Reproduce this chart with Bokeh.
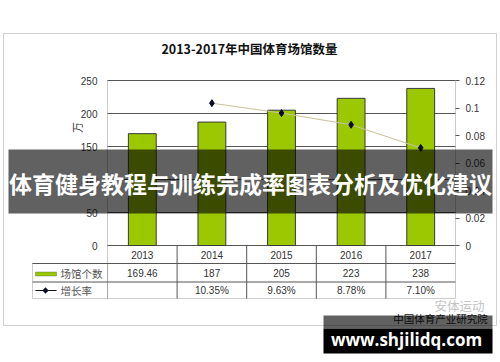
from math import pi
from bokeh.plotting import figure
from bokeh.models import (Range1d, LinearAxis, FixedTicker, Label, BoxAnnotation,
                          PolyAnnotation, Arrow)
from bokeh.core.properties import value
from bokeh.embed import file_html
from bokeh.resources import INLINE

# ---------------- data ----------------
years = ["2013", "2014", "2015", "2016", "2017"]
venues = [169.46, 187, 205, 223, 238]
venue_labels = ["169.46", "187", "205", "223", "238"]
growth_years = ["2014", "2015", "2016", "2017"]
growth = [0.1035, 0.0963, 0.0878, 0.0710]
growth_labels = ["", "10.35%", "9.63%", "8.78%", "7.10%"]
left_ticks = [0, 50, 100, 150, 200, 250]
right_ticks = [0, 0.02, 0.04, 0.06, 0.08, 0.1, 0.12]
right_tick_labels = ["0", "0.02", "0.04", "0.06", "0.08", "0.1", "0.12"]
title_text = "2013-2017年中国体育场馆数量"
unit_text = "万"
series_names = ["场馆个数", "增长率"]
banner_text = "体育健身教程与训练完成率图表分析及优化建议"
source_text = "中国体育产业研究院"
logo_text = "安体运动"
url_text = "www.shjilidq.com"

# ---------------- layout helpers (canvas pixel -> data units) ----------------
W, H = 500, 362
FL, FR, FT, FB = 107, 455, 80, 298   # plot area + table edges, pixels
ZERO_Y = 245
PX_PER_UNIT = (ZERO_Y - FT) / 250.0
RATE_PER_PX = 0.12 / (ZERO_Y - FT)
CAT_W = (FR - FL) / len(years)


def dx(px):
    return (px - FL) / CAT_W


def dy(py):
    return (ZERO_Y - py) / PX_PER_UNIT


def ry(py):
    return (ZERO_Y - py) * RATE_PER_PX


p = figure(width=W, height=H, x_range=Range1d(dx(0), dx(W)),
           y_range=Range1d(dy(H), dy(0)), output_backend="svg",
           toolbar_location=None, x_axis_location=None, y_axis_location="left",
           min_border_left=0, min_border_right=0, min_border_top=0, min_border_bottom=0,
           title=None)
p.background_fill_color = "white"
p.border_fill_color = "white"
p.outline_line_color = None
p.grid.visible = False

p.extra_y_ranges = {"rate": Range1d(ry(H), ry(0))}

left = p.left[0]
left.ticker = FixedTicker(ticks=left_ticks)
left.fixed_location = 0
left.major_tick_line_color = None
left.major_tick_out = 0
left.major_tick_in = 0
left.major_label_standoff = 10

right = LinearAxis(y_range_name="rate", ticker=FixedTicker(ticks=right_ticks),
                   major_label_overrides={t: s for t, s in zip(right_ticks, right_tick_labels)})
right.fixed_location = len(years)
right.major_tick_line_color = "#555555"
right.major_tick_out = 4
right.major_tick_in = 0
right.major_label_standoff = 6
p.add_layout(right, "right")

for ax in (left, right):
    ax.axis_line_color = None
    ax.minor_tick_line_color = None
    ax.major_label_text_font = "Liberation Sans"
    ax.major_label_text_font_size = "10px"
    ax.major_label_text_color = "#333333"

# horizontal grid lines over the plot area
p.segment(x0=0, y0=left_ticks, x1=len(years), y1=left_ticks, line_color="#555555")

centers = [i + 0.5 for i in range(len(years))]
p.vbar(x=centers, top=venues, bottom=0, width=0.4, fill_color="#9BC800",
       line_color="#3a3a3a", line_width=1)

gx = [years.index(y) + 0.5 for y in growth_years]
p.line(gx, growth, y_range_name="rate", line_color="#C9C29A", line_width=1)
p.scatter(gx, growth, y_range_name="rate", marker="diamond", size=7,
          fill_color="#0a0a2a", line_color="#0a0a2a")

# ---------------- data table under the chart ----------------
row1, row2, row3 = dy(263), dy(281.5), dy(FB)
p.segment(x0=[1, 2, 3, 4], y0=0, x1=[1, 2, 3, 4], y1=row3, line_color="#555555")
p.segment(x0=dx(32), y0=[row1, row2], x1=len(years), y1=[row1, row2], line_color="#555555")
tkw = dict(text_font=value("Liberation Sans"), text_font_size="10px",
           text_color="#333333", text_align="center", text_baseline="middle")
p.text(x=centers, y=dy(254), text=years, **tkw)
p.text(x=centers, y=dy(272.5), text=venue_labels, **tkw)
p.text(x=centers, y=dy(290), text=growth_labels, **tkw)

# plot-area / table frame and legend column
p.add_layout(BoxAnnotation(left=0, right=len(years), top=250, bottom=row3,
                           fill_color=None, line_color="#555555", line_width=1))
p.add_layout(BoxAnnotation(left=dx(32), right=0, top=row1, bottom=row3,
                           fill_color=None, line_color="#555555", line_width=1))
p.add_layout(BoxAnnotation(left=dx(35), right=dx(56), top=dy(271.5), bottom=dy(275.5),
                           fill_color="#9BC800", fill_alpha=1, line_color="#333333"))
p.add_layout(Arrow(x_start=dx(35), y_start=dy(290), x_end=dx(56), y_end=dy(290),
                   end=None, line_color="#111111", line_width=1))
p.add_layout(PolyAnnotation(xs=[dx(42), dx(45), dx(48), dx(45)],
                            ys=[dy(290), dy(287), dy(290), dy(293)],
                            fill_color="#0a0a2a", fill_alpha=1, line_color="#0a0a2a"))
lkw = dict(text_font="Noto Sans CJK SC", text_font_size="10.5px", text_color="#555555",
           text_align="left", text_baseline="middle")
p.add_layout(Label(x=dx(60), y=dy(273), text=series_names[0], **lkw))
p.add_layout(Label(x=dx(60), y=dy(290), text=series_names[1], **lkw))

# title, unit, outer border
p.add_layout(Label(x=dx(249), y=dy(48), text=title_text, text_font="Noto Sans CJK SC",
                   text_font_size="12.5px", text_font_style="bold", text_color="#111111",
                   text_align="center", text_baseline="middle"))
p.add_layout(Label(x=dx(76), y=dy(127), text=unit_text, angle=pi / 2,
                   text_font="Noto Sans CJK SC", text_font_size="11px", text_color="#333333",
                   text_align="center", text_baseline="middle"))
p.add_layout(BoxAnnotation(left=dx(3), right=dx(496), top=dy(33), bottom=dy(325),
                           fill_color=None, line_color="#666666", line_width=1))

# watermark texts under the bands
p.add_layout(Label(x=dx(459), y=dy(305), text=logo_text, text_font="Noto Sans CJK SC",
                   text_font_size="12.5px", text_color="#c4c4c4",
                   text_align="center", text_baseline="middle"))
p.add_layout(Label(x=dx(440), y=dy(318), text=source_text, text_font="Noto Sans CJK SC",
                   text_font_size="10.5px", text_color="#222222",
                   text_align="center", text_baseline="middle"))

# overlay banner
p.add_layout(BoxAnnotation(left=dx(8), right=dx(492), top=dy(149), bottom=dy(213),
                           fill_color="black", fill_alpha=0.62, line_color=None,
                           level="annotation"))
p.add_layout(Label(x=dx(250), y=dy(182), text=banner_text, text_font="Noto Sans CJK SC",
                   text_font_size="23px", text_font_style="bold", text_color="white",
                   text_align="center", text_baseline="middle", level="overlay"))

# url band
p.add_layout(BoxAnnotation(left=dx(323), right=dx(492), top=dy(315), bottom=dy(328),
                           fill_color="black", fill_alpha=0.62, line_color=None))
p.add_layout(BoxAnnotation(left=dx(323), right=dx(492), top=dy(328), bottom=dy(353),
                           fill_color="black", fill_alpha=1, line_color=None))
p.add_layout(Label(x=dx(406), y=dy(339), text=url_text, text_font="Open Sans",
                   text_font_size="17px", text_font_style="bold", text_color="white",
                   text_align="center", text_baseline="middle", level="overlay"))

open("out.html", "w").write(file_html(p, INLINE))
